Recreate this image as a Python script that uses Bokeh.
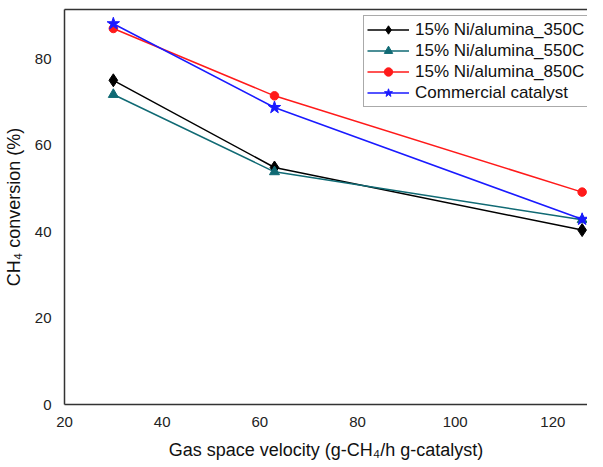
from bokeh.plotting import figure
from bokeh.models import Range1d, LinearAxis, FixedTicker, Legend, LegendItem
from bokeh.embed import file_html
from bokeh.resources import INLINE

velocity = [30, 63, 126]
ni_350 = [75.1, 54.9, 40.4]
ni_550 = [71.8, 53.9, 42.8]
ni_850 = [87.1, 71.5, 49.2]
commercial = [88.2, 68.8, 42.9]
labels = ["15% Ni/alumina_350C", "15% Ni/alumina_550C", "15% Ni/alumina_850C", "Commercial catalyst"]
x_ticks = [20, 40, 60, 80, 100, 120]
y_ticks = [0, 20, 40, 60, 80]

FONT = "Liberation Sans"

p = figure(width=587, height=462, output_backend="svg", toolbar_location=None,
           x_range=Range1d(20, 127.1), y_range=Range1d(0, 91.5),
           min_border_left=60, min_border_right=0, min_border_top=9, min_border_bottom=40)
p.outline_line_color = None
p.xgrid.visible = False
p.ygrid.visible = False

for ax, ticks in ((p.xaxis[0], x_ticks), (p.yaxis[0], y_ticks)):
    ax.ticker = FixedTicker(ticks=ticks)
    ax.major_tick_line_color = None
    ax.minor_tick_line_color = None
    ax.axis_line_color = "#333333"
    ax.axis_line_width = 1.5
    ax.major_label_text_font = FONT
    ax.major_label_text_font_size = "15px"
    ax.major_label_text_color = "#222222"
    ax.axis_label_text_font = FONT
    ax.axis_label_text_font_size = "18px"
    ax.axis_label_text_font_style = "normal"
    ax.axis_label_text_color = "#111111"

p.xaxis.axis_label = "Gas space velocity (g-CH\u2084/h g-catalyst)"
p.yaxis.axis_label = "CH\u2084 conversion (%)"
p.xaxis.major_label_standoff = 6
p.yaxis.major_label_standoff = 7
p.xaxis.axis_label_standoff = 10
p.yaxis.axis_label_standoff = 8

top = LinearAxis(ticker=FixedTicker(ticks=[]), major_tick_line_color=None, minor_tick_line_color=None,
                 major_label_text_font_size="0px", major_label_standoff=0, axis_line_color="#333333",
                 axis_line_width=1.5)
p.add_layout(top, "above")

teal = "#106a74"
items = []
specs = [
    (ni_350, "black", "diamond", 13),
    (ni_550, teal, "triangle", 10),
    (ni_850, "#ff1a1a", "circle", 8.5),
    (commercial, "#1a1aff", "star", 13),
]
for (vals, col, mk, sz), lab in zip(specs, labels):
    r1 = p.line(velocity, vals, line_color=col, line_width=1.5)
    r2 = p.scatter(velocity, vals, marker=mk, size=sz, fill_color=col, line_color=col)
    items.append(LegendItem(label=lab, renderers=[r1, r2]))

leg = Legend(items=items, location=(299, 297), label_text_font=FONT, label_text_font_size="17px",
             label_text_color="#111111", border_line_color="#555555", border_line_width=1,
             glyph_width=42, glyph_height=21, label_height=21, spacing=0, padding=3,
             margin=0, label_standoff=6, background_fill_alpha=1)
p.add_layout(leg)

open("out.html", "w").write(file_html(p, INLINE))
